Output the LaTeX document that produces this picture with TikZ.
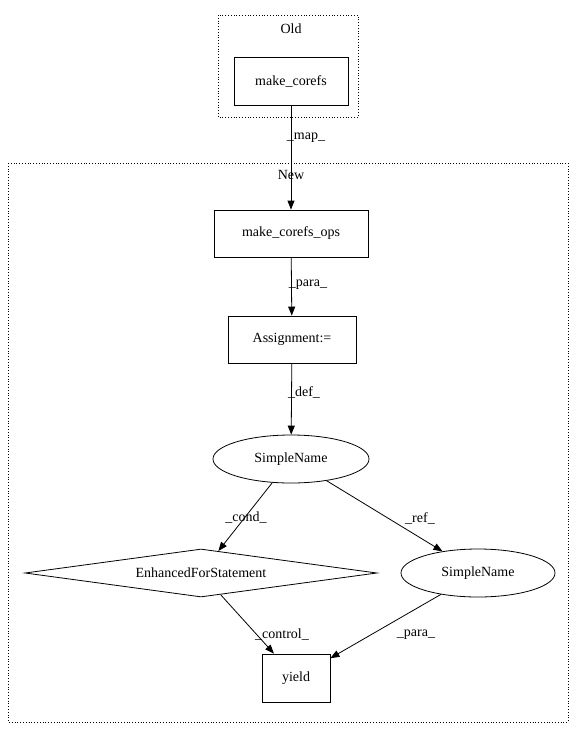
\documentclass[tikz,border=0pt]{standalone}
\usepackage{fontspec}
\setmainfont{Liberation Serif}
\usetikzlibrary{shapes.geometric,arrows.meta}
\begin{document}
\begin{tikzpicture}[x=1pt,y=-1pt,font=\fontsize{14}{16}\selectfont,
  box/.style={draw,thick,rectangle,inner sep=0pt},
  ell/.style={draw,thick,ellipse,inner sep=0pt},
  dia/.style={draw,thick,diamond,aspect=7.3,inner sep=0pt},
  clus/.style={draw,thick,dotted},
  edge/.style={-{Triangle[length=9pt,width=7pt]},thick},
  lbl/.style={inner sep=1pt}]
\useasboundingbox (0,0) rectangle (581,740);
\draw[clus] (218,15) rectangle (358,117);
\node (oldl) at (291,29) {Old};
\draw[clus] (8,163) rectangle (568,722);
\node (newl) at (291,175) {New};
\node[box,minimum width=114pt,minimum height=48pt] (mc) at (291,81) {make\_corefs};
\node[box,minimum width=154pt,minimum height=47pt] (mco) at (291,233.5) {make\_corefs\_ops};
\node[box,minimum width=128pt,minimum height=47pt] (as) at (292,339.5) {Assignment:=};
\node[ell,minimum width=156pt,minimum height=48pt] (sn) at (291,459) {SimpleName};
\node[dia,minimum width=352pt,minimum height=48pt] (ef) at (201,573) {EnhancedForStatement};
\node[ell,minimum width=154pt,minimum height=48pt] (sn2) at (478,573) {SimpleName};
\node[box,minimum width=68pt,minimum height=48pt] (y) at (296,678) {yield};
\draw[edge] (mc) -- (mco) node[lbl] at (306,138) {\_map\_};
\draw[edge] (mco) -- (as) node[lbl] at (308,285) {\_para\_};
\draw[edge] (as) -- (sn) node[lbl] at (304,392) {\_def\_};
\draw[edge] (sn) -- (ef) node[lbl] at (246,518) {\_cond\_};
\draw[edge] (sn) -- (sn2) node[lbl] at (420,518) {\_ref\_};
\draw[edge] (ef) -- (y) node[lbl] at (282,635) {\_control\_};
\draw[edge] (sn2) -- (y) node[lbl] at (416,635) {\_para\_};
\end{tikzpicture}
\end{document}
